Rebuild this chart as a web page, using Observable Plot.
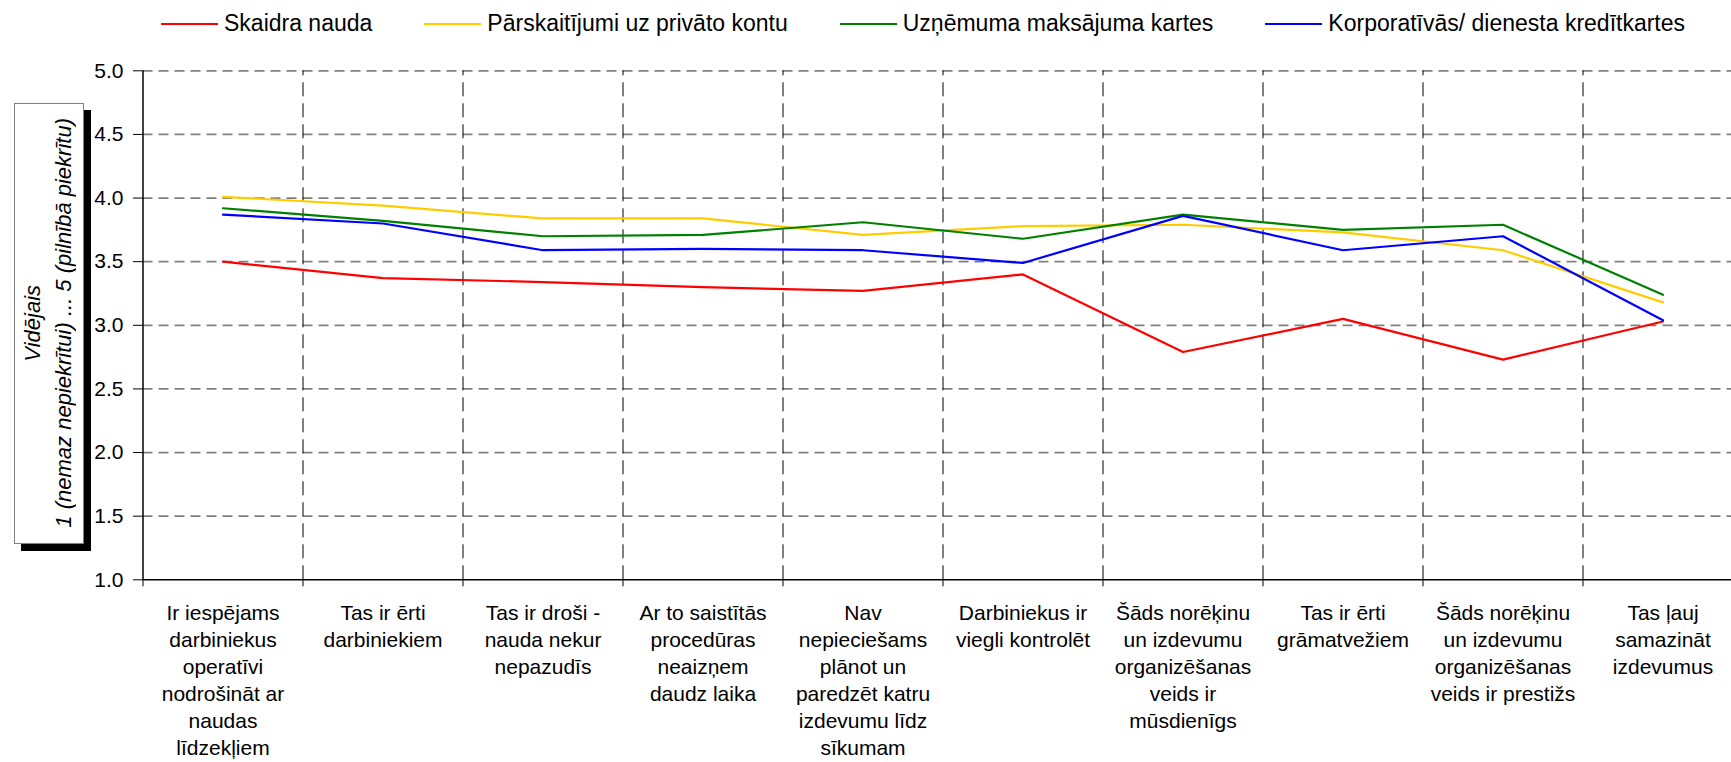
<!DOCTYPE html>
<html>
<head>
<meta charset="utf-8">
<script src="https://cdn.jsdelivr.net/npm/d3@7"></script>
<script src="https://cdn.jsdelivr.net/npm/@observablehq/plot@0.6"></script>
<style>
  html, body { margin: 0; padding: 0; background: #fff; overflow: hidden; }
  #wrap { position: relative; width: 1731px; height: 762px; font-family: "Liberation Sans", Arial, sans-serif; }
  #legend { display: flex; align-items: center; height: 47px; padding-left: 161px; box-sizing: border-box; font-size: 23px; color: #000; white-space: nowrap; }
  .item { display: flex; align-items: center; margin-right: 52px; }
  .swatch { width: 57px; height: 2px; margin-right: 6px; }
  #ytitle { position: absolute; left: 13.5px; top: 102.5px; width: 70px; height: 441px; box-sizing: border-box;
            border: 1px solid #808080; background: #fff; box-shadow: 7px 7px 0 #000;
            display: flex; align-items: center; justify-content: center; }
  #ytitle div { writing-mode: vertical-rl; transform: rotate(180deg); font-style: italic; font-size: 22px;
                line-height: 31px; text-align: center; white-space: nowrap; color: #000; margin-left: -2px; }
  #chart svg { display: block; }
</style>
</head>
<body>
<div id="wrap">
  <div id="legend"></div>
  <div id="chart"></div>
  <div id="ytitle"><div>Vidējais<br>1 (nemaz nepiekrītui) ... 5 (pilnībā piekrītu)</div></div>
</div>
<script>
const categories = [
  "Ir iespējams\ndarbiniekus\noperatīvi\nnodrošināt ar\nnaudas\nlīdzekļiem",
  "Tas ir ērti\ndarbiniekiem",
  "Tas ir droši -\nnauda nekur\nnepazudīs",
  "Ar to saistītās\nprocedūras\nneaizņem\ndaudz laika",
  "Nav\nnepieciešams\nplānot un\nparedzēt katru\nizdevumu līdz\nsīkumam",
  "Darbiniekus ir\nviegli kontrolēt",
  "Šāds norēķinu\nun izdevumu\norganizēšanas\nveids ir\nmūsdienīgs",
  "Tas ir ērti\ngrāmatvežiem",
  "Šāds norēķinu\nun izdevumu\norganizēšanas\nveids ir prestižs",
  "Tas ļauj\nsamazināt\nizdevumus"
];
const seriesNames = [
  "Skaidra nauda",
  "Pārskaitījumi uz privāto kontu",
  "Uzņēmuma maksājuma kartes",
  "Korporatīvās/ dienesta kredītkartes"
];
const seriesColors = ["#FF0000", "#FFCC00", "#008000", "#0000FF"];
const skaidraNauda   = [3.50, 3.37, 3.34, 3.30, 3.27, 3.40, 2.79, 3.05, 2.73, 3.03];
const parskaitijumi  = [4.01, 3.94, 3.84, 3.84, 3.71, 3.78, 3.79, 3.73, 3.59, 3.18];
const uznemumaKartes = [3.92, 3.82, 3.70, 3.71, 3.81, 3.68, 3.87, 3.75, 3.79, 3.24];
const korporativas   = [3.87, 3.80, 3.59, 3.60, 3.59, 3.49, 3.86, 3.59, 3.70, 3.04];
const yTicks = [1.0, 1.5, 2.0, 2.5, 3.0, 3.5, 4.0, 4.5, 5.0];

const seriesValues = [skaidraNauda, parskaitijumi, uznemumaKartes, korporativas];
const table = seriesNames.flatMap((name, s) =>
  seriesValues[s].map((v, i) => ({series: name, pos: i + 0.5, value: v})));
const boundaries = d3.range(0, categories.length + 1);
const inner = boundaries.filter(b => b > 0);

// legend
const legend = document.getElementById("legend");
seriesNames.forEach((name, i) => {
  const item = document.createElement("div");
  item.className = "item";
  const sw = document.createElement("span");
  sw.className = "swatch";
  sw.style.background = seriesColors[i];
  const tx = document.createElement("span");
  tx.textContent = name;
  item.appendChild(sw);
  item.appendChild(tx);
  legend.appendChild(item);
});

const chart = Plot.plot({
  width: 1731,
  height: 715,
  marginTop: 23.3,
  marginBottom: 182.7,
  marginLeft: 142.5,
  marginRight: 0,
  style: {fontFamily: '"Liberation Sans", Arial, sans-serif', fontSize: "21px", color: "#000", background: "#fff", overflow: "hidden"},
  x: {domain: [0, categories.length], range: [142.5, 1742.5]},
  y: {domain: [1, 5]},
  color: {domain: seriesNames, range: seriesColors},
  marks: [
    Plot.ruleY(yTicks.filter(v => v > 1), {stroke: "#808080", strokeWidth: 1.7, strokeDasharray: "10,6"}),
    Plot.ruleX(inner, {y1: 1, y2: 5, stroke: "#000", strokeWidth: 1, strokeDasharray: "14,7"}),
    Plot.axisX({ticks: boundaries, tickSize: 7, tickFormat: () => "", label: null, stroke: "#000"}),
    Plot.axisY({ticks: yTicks, tickSize: 9.5, tickPadding: 10, tickFormat: d3.format(".1f"), label: null, fontSize: 21, stroke: "#000"}),
    Plot.ruleY([1], {stroke: "#000", strokeWidth: 1.5}),
    Plot.ruleX([0], {stroke: "#000", strokeWidth: 1.5}),
    Plot.line(table, {x: "pos", y: "value", z: "series", stroke: "series", strokeWidth: 2.2}),
    Plot.text(categories, {x: (d, i) => i + 0.5, y: 1, text: d => d, lineAnchor: "top", dy: 20.5,
      fontSize: 21, lineHeight: 1.29, fill: "#000"})
  ]
});
document.getElementById("chart").appendChild(chart);
</script>
</body>
</html>
